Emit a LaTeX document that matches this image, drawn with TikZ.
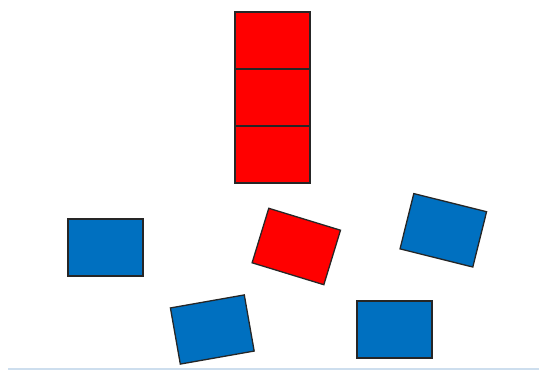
\documentclass[tikz,border=0pt]{standalone}
\definecolor{myred}{RGB}{255,0,0}
\definecolor{myblue}{RGB}{0,112,192}
\definecolor{groundcol}{RGB}{205,222,238}
\begin{document}
\begin{tikzpicture}[x=1pt,y=-1pt,
  block/.style={draw=black!85,line width=1.3pt,minimum width=75pt,minimum height=57pt,inner sep=0pt,outer sep=0pt},
  redblock/.style={block,fill=myred},
  blueblock/.style={block,fill=myblue}]
\useasboundingbox (0,0) rectangle (539,372);
\node[redblock] (r1) at (272.5,40.5) {};
\node[redblock] (r2) at (272.5,97.5) {};
\node[redblock] (r3) at (272.5,154.5) {};
\node[redblock,rotate=-17] (r4) at (296.3,246.5) {};
\node[blueblock] (b1) at (105.5,247.5) {};
\node[blueblock,rotate=-14] (b2) at (443.3,230.3) {};
\node[blueblock,rotate=10] (b3) at (212.3,329.5) {};
\node[blueblock] (b4) at (394.5,329.5) {};
\coordinate (l1) at (8,369);
\coordinate (l2) at (539,369);
\draw[draw=groundcol,line width=2pt] (l1) -- (l2);
\end{tikzpicture}
\end{document}
